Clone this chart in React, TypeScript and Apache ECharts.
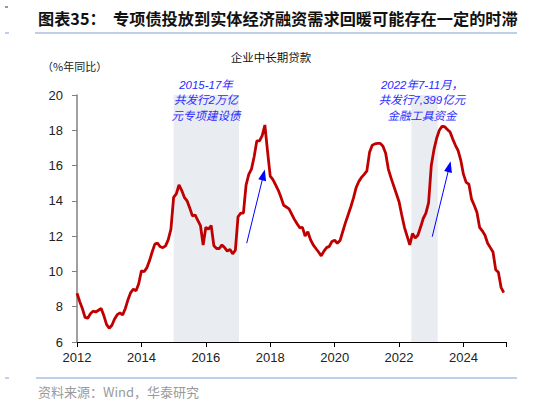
import React, { useEffect, useRef } from 'react';
import * as echarts from 'echarts';

// Monthly YoY growth of corporate medium/long-term loans, Jan 2012 – Apr 2025 (%)
const startYear = 2012;
const loanGrowth: number[] = [
  // 2012
  8.76, 8.3, 7.9, 7.4, 7.35, 7.6, 7.75, 7.7, 7.8, 7.9, 7.5, 7.0,
  // 2013
  6.78, 6.95, 7.3, 7.55, 7.65, 7.53, 7.9, 8.4, 8.8, 9.0, 8.9, 9.3,
  // 2014
  10.04, 9.98, 10.2, 10.6, 11.1, 11.55, 11.6, 11.4, 11.35, 11.45, 11.8, 12.4,
  // 2015
  14.2, 14.4, 14.9, 14.6, 14.2, 14.0, 13.6, 13.15, 13.2, 12.9, 12.6, 11.5,
  // 2016
  12.5, 12.4, 12.6, 11.45, 11.3, 11.3, 11.5, 11.35, 11.15, 11.25, 11.0, 11.2,
  // 2017
  13.1, 13.3, 13.3, 14.9, 15.5, 15.8, 16.5, 17.4, 17.4, 17.7, 18.3, 16.8,
  // 2018
  15.4, 15.2, 14.9, 14.6, 14.2, 13.75, 13.65, 13.55, 13.25, 12.95, 12.7, 12.47,
  // 2019
  12.5, 12.0, 12.25, 11.8, 11.5, 11.3, 11.1, 10.88, 11.15, 11.35, 11.42, 11.7,
  // 2020
  11.77, 11.6, 11.75, 12.25, 12.75, 13.2, 13.65, 14.15, 14.75, 15.1, 15.33, 15.5,
  // 2021
  15.7, 16.75, 17.15, 17.23, 17.26, 17.26, 17.1, 16.7, 15.8, 15.3, 14.85, 14.4,
  // 2022
  13.95, 13.2, 12.5, 12.0, 11.5, 12.15, 11.9, 12.05, 12.5, 13.0, 13.3, 13.9,
  // 2023
  16.0, 16.9, 17.55, 18.0, 18.22, 18.2, 18.05, 17.9, 17.5, 17.15, 16.85, 16.3,
  // 2024
  15.5, 15.05, 14.95, 14.1, 13.75, 13.35, 12.5, 12.3, 12.05, 11.6, 11.35, 11.1,
  // 2025
  10.1, 9.95, 9.1, 8.8,
];

const xMin = 2012;
const xMax = 2025.32;
const xInterval = 2;
const yMin = 6;
const yMax = 20;
const yInterval = 2;

// shaded periods (in years)
const shadedPeriods: [number, number][] = [
  [2015.0, 2017.03],
  [2022.38, 2023.2],
];

// arrows: [from, to] in [year, %]
const arrows: [[number, number], [number, number]][] = [
  [[2017.27, 11.6], [2017.79, 15.47]],
  [[2023.03, 11.97], [2023.56, 15.94]],
];

const titleText = '图表35：  专项债投放到实体经济融资需求回暖可能存在一定的时滞';
const chartTitle = '企业中长期贷款';
const unitText = '（%年同比）';
const note1 = ['2015-17年', '共发行2万亿', '元专项建设债'];
const note2 = ['2022年7-11月，', '共发行7,399亿元', '金融工具资金'];
const sourceText = '资料来源：Wind，华泰研究';

const SANS = '"Liberation Sans", Arial, "Noto Sans CJK SC", sans-serif';
const CJK = '"Noto Sans CJK SC", "Liberation Sans", sans-serif';

export default function App() {
  const ref = useRef<HTMLDivElement>(null);

  useEffect(() => {
    document.body.style.margin = '0';
    if (!ref.current) return;
    const chart = echarts.init(ref.current, null, { renderer: 'svg' });

    const seriesData = loanGrowth.map((v, i) => [startYear + i / 12, v]);

    const noteStyle = {
      fill: '#2b2bff',
      fontSize: 11.5,
      fontStyle: 'italic',
      fontFamily: SANS,
      align: 'center',
      verticalAlign: 'middle',
      lineHeight: 15.5,
    };

    chart.setOption({
      animation: false,
      grid: { left: 77, right: 32, top: 95, bottom: 61 },
      xAxis: {
        type: 'value',
        min: xMin,
        max: xMax,
        interval: xInterval,
        axisLine: { show: true, lineStyle: { color: '#000', width: 1 } },
        axisTick: { show: true, length: 5, lineStyle: { color: '#000' } },
        splitLine: { show: false },
        axisLabel: {
          margin: 9,
          color: '#222',
          fontSize: 13,
          fontFamily: SANS,
          formatter: (v: number) => (Number.isInteger(v) ? String(v) : ''),
        },
      },
      yAxis: {
        type: 'value',
        min: yMin,
        max: yMax,
        interval: yInterval,
        axisLine: { show: true, lineStyle: { color: '#808080', width: 1.5 } },
        axisTick: { show: true, length: 5, lineStyle: { color: '#808080' } },
        splitLine: { show: false },
        axisLabel: { margin: 14, color: '#222', fontSize: 13, fontFamily: SANS },
      },
      series: [
        {
          type: 'line',
          data: seriesData,
          showSymbol: false,
          symbol: 'none',
          lineStyle: { color: '#c00000', width: 2.8 },
          z: 3,
          markArea: {
            silent: true,
            itemStyle: { color: '#e9ecf1' },
            data: shadedPeriods.map(([a, b]) => [{ xAxis: a }, { xAxis: b }]),
          },
          markLine: {
            silent: true,
            symbol: ['none', 'triangle'],
            symbolSize: [8, 11],
            label: { show: false },
            lineStyle: { color: '#0000ff', width: 1, type: 'solid' },
            data: arrows.map(([from, to]) => [{ coord: from }, { coord: to }]),
          },
        },
      ],
      graphic: [
        { type: 'line', z: 100, shape: { x1: 5, y1: 7, x2: 8, y2: 7 }, style: { stroke: '#333', lineWidth: 1 } },
        {
          type: 'text',
          z: 100,
          x: 38,
          y: 18,
          style: {
            text: titleText,
            fill: '#111',
            fontSize: 16.2,
            fontWeight: 'bold',
            fontFamily: CJK,
            verticalAlign: 'middle',
          },
        },
        { type: 'line', z: 100, shape: { x1: 35, y1: 33, x2: 517, y2: 33 }, style: { stroke: '#7f9fcf', lineWidth: 1 } },
        { type: 'line', z: 100, shape: { x1: 5, y1: 33, x2: 9, y2: 33 }, style: { stroke: '#7f9fcf', lineWidth: 1 } },
        {
          type: 'text',
          z: 100,
          x: 271,
          y: 57,
          style: {
            text: chartTitle,
            fill: '#111',
            fontSize: 11.5,
            fontFamily: CJK,
            align: 'center',
            verticalAlign: 'middle',
          },
        },
        {
          type: 'text',
          z: 100,
          x: 42,
          y: 66,
          style: { text: unitText, fill: '#222', fontSize: 11, fontFamily: CJK, verticalAlign: 'middle' },
        },
        { type: 'text', z: 100, x: 206, y: 100, style: { ...noteStyle, text: note1.join('\n') } },
        { type: 'text', z: 100, x: 422, y: 100, style: { ...noteStyle, text: note2.join('\n') } },
        { type: 'line', z: 100, shape: { x1: 36, y1: 378, x2: 517, y2: 378 }, style: { stroke: '#7f9fcf', lineWidth: 1 } },
        { type: 'line', z: 100, shape: { x1: 5, y1: 378, x2: 9, y2: 378 }, style: { stroke: '#7f9fcf', lineWidth: 1 } },
        {
          type: 'text',
          z: 100,
          x: 38,
          y: 391,
          style: { text: sourceText, fill: '#9a9a9a', fontSize: 13, fontFamily: CJK, verticalAlign: 'middle' },
        },
      ],
    });

    return () => chart.dispose();
  }, []);

  return <div ref={ref} style={{ width: 538, height: 403 }} />;
}
